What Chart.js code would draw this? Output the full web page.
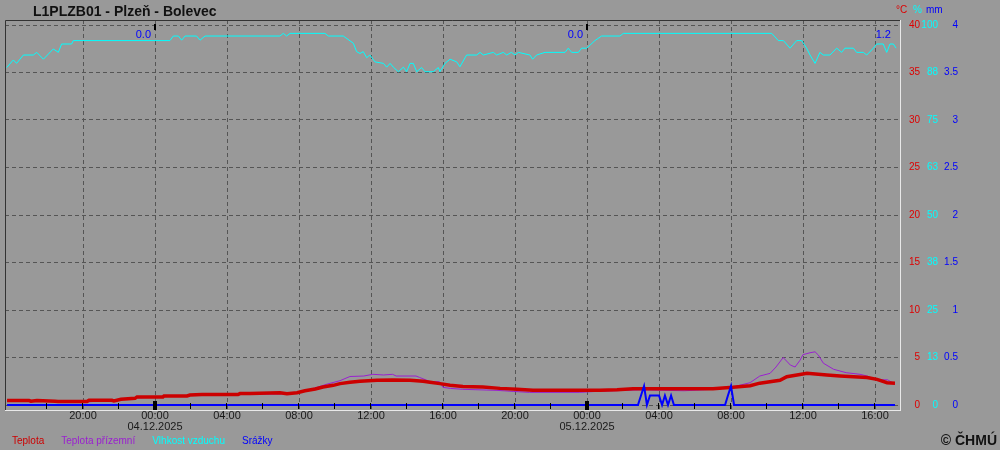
<!DOCTYPE html>
<html lang="cs">
<head>
<meta charset="UTF-8">
<title>L1PLZB01 - Plzeň - Bolevec</title>
<script src="https://cdn.jsdelivr.net/npm/chart.js"></script>
<style>
    body {
        margin: 0;
        padding: 0;
        background-color: #999999;
    }
    .wrap {
        width: 1000px;
        height: 450px;
    }
</style>
</head>
<body>
<div class="wrap"><canvas id="chart" width="1000" height="450"></canvas></div>
<script>
// time = hours from 04.12.2025 00:00
const tempTime = [-8.22, -7.0, -6.89, -6.56, -5.56, -5.39, -3.78, -3.67, -2.39, -2.28, -1.89, -1.11, -1.0, 0.44, 0.5, 1.78, 1.94, 2.61, 4.61, 4.72, 5.28, 6.94, 7.33, 7.89, 8.33, 8.9, 9.33, 9.9, 10.28, 10.83, 11.39, 12.33, 13.2, 14.17, 14.9, 15.28, 15.83, 16.39, 17.11, 18.22, 19.17, 20.11, 21.0, 24.72, 25.67, 26.56, 27.1, 31.0, 32.1, 33.06, 33.6, 34.72, 35.1, 35.83, 36.22, 37.33, 38.06, 39.56, 40.11, 40.67, 41.11];
const tempVal = [0.47, 0.47, 0.4, 0.47, 0.4, 0.37, 0.37, 0.5, 0.5, 0.42, 0.6, 0.7, 0.85, 0.85, 0.95, 0.95, 1.05, 1.1, 1.1, 1.2, 1.2, 1.3, 1.19, 1.3, 1.5, 1.68, 1.9, 2.07, 2.25, 2.39, 2.49, 2.6, 2.63, 2.6, 2.5, 2.39, 2.25, 2.07, 1.96, 1.9, 1.75, 1.65, 1.54, 1.54, 1.6, 1.72, 1.72, 1.72, 1.86, 2.03, 2.3, 2.6, 2.98, 3.2, 3.33, 3.15, 3.05, 2.9, 2.7, 2.35, 2.3];

const groundTime = [-8.22, -3.7, -1.0, 2.0, 4.7, 7.5, 8.33, 9.0, 9.56, 10.28, 10.83, 11.6, 12.1, 12.7, 13.2, 13.4, 14.5, 14.7, 15.3, 15.8, 16.0, 16.4, 17.1, 19.0, 19.9, 20.8, 23.6, 24.7, 27.0, 29.4, 31.0, 32.0, 33.06, 33.6, 34.17, 34.5, 34.9, 35.3, 35.56, 35.83, 36.0, 36.39, 36.67, 36.85, 37.13, 37.7, 38.4, 39.17, 39.56, 40.1, 40.7, 41.11];
const groundVal = [0.4, 0.33, 0.75, 1.0, 1.12, 1.17, 1.5, 1.86, 2.2, 2.56, 3.0, 3.05, 3.23, 3.16, 3.23, 3.05, 3.05, 2.9, 2.45, 2.45, 1.86, 1.75, 1.65, 1.54, 1.43, 1.33, 1.33, 1.45, 1.6, 1.5, 1.65, 1.85, 2.35, 3.05, 3.33, 4.0, 5.0, 4.2, 4.0, 4.7, 5.3, 5.5, 5.6, 5.26, 4.4, 3.76, 3.4, 3.23, 3.05, 2.65, 2.65, 2.18];

const humTime = [-8.24, -7.87, -7.69, -7.31, -6.76, -6.57, -6.2, -5.65, -5.37, -5.19, -4.63, -4.54, 0.83, 1.02, 1.3, 1.48, 1.67, 2.31, 2.5, 2.78, 6.94, 7.13, 7.31, 7.5, 9.44, 9.63, 10.46, 11.02, 11.2, 11.39, 11.57, 11.76, 11.94, 12.22, 12.69, 12.87, 13.06, 13.24, 13.52, 13.8, 13.98, 14.17, 14.35, 14.54, 14.81, 15.0, 15.46, 15.74, 15.83, 16.11, 16.39, 16.76, 16.94, 17.31, 17.87, 18.06, 18.24, 18.8, 18.98, 19.35, 19.54, 19.8, 20.0, 20.19, 20.83, 20.98, 21.2, 21.67, 22.78, 22.96, 23.15, 23.52, 23.7, 23.98, 24.17, 24.44, 24.81, 25.83, 26.02, 34.26, 34.63, 34.91, 35.28, 35.65, 35.93, 36.2, 36.39, 36.67, 36.94, 37.13, 37.5, 37.87, 38.15, 38.33, 38.8, 38.98, 39.35, 39.54, 39.91, 40.09, 40.46, 40.65, 40.83, 41.02, 41.17];
const humVal = [88.8, 90.8, 89.9, 92.1, 92.1, 92.8, 91.0, 93.7, 92.8, 95.0, 95.0, 95.9, 95.9, 97.1, 97.1, 96.0, 97.1, 97.1, 96.0, 97.1, 97.1, 97.8, 97.1, 97.8, 97.8, 97.1, 97.1, 95.2, 93.0, 92.5, 93.0, 91.4, 92.1, 90.3, 89.9, 88.9, 89.9, 88.9, 87.7, 88.9, 87.7, 89.9, 89.9, 87.7, 88.8, 87.7, 87.7, 88.8, 87.7, 89.9, 91.0, 90.3, 89.0, 92.1, 92.1, 92.8, 92.1, 92.8, 92.1, 92.8, 92.1, 92.8, 92.1, 92.8, 92.1, 91.0, 92.1, 92.8, 92.8, 93.9, 92.8, 92.8, 93.9, 93.9, 94.7, 95.9, 97.1, 97.1, 97.8, 97.8, 95.9, 95.9, 93.9, 95.9, 95.9, 93.9, 92.1, 89.9, 92.8, 92.1, 92.1, 93.9, 92.8, 93.9, 93.9, 92.8, 92.8, 92.1, 93.9, 95.0, 95.0, 92.8, 95.0, 95.0, 93.9];

const rainTime = [-8.22, 26.83, 27.0, 27.17, 27.33, 27.5, 27.67, 27.83, 28.0, 28.17, 28.33, 28.5, 28.67, 28.83, 31.67, 31.83, 32.0, 32.17, 41.11];
const rainVal = [0, 0, 0.1, 0.2, 0, 0.1, 0.1, 0.1, 0.1, 0, 0.1, 0, 0.1, 0, 0, 0.1, 0.2, 0, 0];

const timeTicks = [-4, 0, 4, 8, 12, 16, 20, 24, 28, 32, 36, 40];
const minorTicks = [-6, -4, -2, 0, 2, 4, 6, 8, 10, 12, 14, 16, 18, 20, 22, 24, 26, 28, 30, 32, 34, 36, 38, 40];
const midnightHours = [0, 24];
const midnightLabels = ['04.12.2025', '05.12.2025'];

const tempTicks = [0, 5, 10, 15, 20, 25, 30, 35, 40];
const humTicks = [0, 12.5, 25, 37.5, 50, 62.5, 75, 87.5, 100];
const humTickLabels = ['0', '13', '25', '38', '50', '63', '75', '88', '100'];
const rainTicks = [0, 0.5, 1, 1.5, 2, 2.5, 3, 3.5, 4];
const rainTickLabels = ['0', '0.5', '1', '1.5', '2', '2.5', '3', '3.5', '4'];

const FONT = '"Liberation Sans", Arial, sans-serif';
Chart.defaults.font.family = FONT;

// scale ranges so that 0..40 sits inside the frame like the original
const xMin = -150 / 18, xMax = 745 / 18;
const tMin = -5 / 9.5, tMax = 40 + 5 / 9.5;

function pts(t, v) {
    return t.map((x, i) => ({ x: x, y: v[i] }));
}

// daily rain sums shown at the top
function rainSums() {
    const sums = {};
    rainTime.forEach((t, i) => {
        const d = Math.floor(t / 24);
        sums[d] = (sums[d] || 0) + rainVal[i];
    });
    return [
        { at: 0, text: (sums[-1] || 0).toFixed(1) },
        { at: 24, text: (sums[0] || 0).toFixed(1) },
        { at: rainTime[rainTime.length - 1], text: (sums[1] || 0).toFixed(1) }
    ];
}

const decor = {
    id: 'decor',
    afterDatasetsDraw(chart) {
        const { ctx, chartArea: a, scales: { x } } = chart;
        ctx.save();

        // dark top/left frame
        ctx.strokeStyle = '#333333';
        ctx.lineWidth = 1;
        ctx.beginPath();
        ctx.moveTo(a.left + 0.5, a.bottom);
        ctx.lineTo(a.left + 0.5, a.top + 0.5);
        ctx.lineTo(a.right, a.top + 0.5);
        ctx.stroke();

        // tick marks along the bottom
        ctx.fillStyle = '#000000';
        minorTicks.forEach(h => {
            const px = Math.round(x.getPixelForValue(h));
            if (midnightHours.includes(h)) {
                ctx.fillRect(px - 2, a.bottom - 9, 4, 9);
                ctx.fillRect(px - 1, a.top + 4, 2, 6);
            } else {
                ctx.fillRect(px - 1, a.bottom - 7, 1, 6);
            }
        });

        // units
        ctx.font = '10px ' + FONT;
        ctx.textBaseline = 'middle';
        ctx.textAlign = 'left';
        ctx.fillStyle = '#dd0000';
        ctx.fillText('°C', 896, 10);
        ctx.fillStyle = '#00ffff';
        ctx.fillText('%', 913, 10);
        ctx.fillStyle = '#0000ff';
        ctx.fillText('mm', 926, 10);

        // title
        ctx.font = 'bold 14px ' + FONT;
        ctx.fillStyle = '#111111';
        ctx.textBaseline = 'alphabetic';
        ctx.fillText('L1PLZB01 - Plzeň - Bolevec', 33, 16);

        // rain sums
        ctx.font = '11px ' + FONT;
        ctx.fillStyle = '#0000ff';
        ctx.textAlign = 'right';
        ctx.textBaseline = 'middle';
        rainSums().forEach(s => {
            ctx.fillText(s.text, x.getPixelForValue(s.at) - 4, 35);
        });

        // legend
        ctx.font = '10px ' + FONT;
        ctx.textAlign = 'left';
        let lx = 12;
        chart.data.datasets.forEach(ds => {
            ctx.fillStyle = ds.borderColor;
            ctx.fillText(ds.label, lx, 441);
            lx += ctx.measureText(ds.label).width + 17;
        });

        // copyright
        ctx.font = 'bold 14px ' + FONT;
        ctx.fillStyle = '#111111';
        ctx.textAlign = 'right';
        ctx.fillText('© ČHMÚ', 997, 441);

        ctx.restore();
    }
};

new Chart(document.getElementById('chart'), {
    type: 'line',
    data: {
        datasets: [
            {
                label: 'Teplota',
                data: pts(tempTime, tempVal),
                borderColor: '#cc0000',
                borderWidth: 3.5,
                yAxisID: 'y',
                order: 1
            },
            {
                label: 'Teplota přízemní',
                data: pts(groundTime, groundVal),
                borderColor: '#9a20d0',
                borderWidth: 1,
                yAxisID: 'y',
                order: 2
            },
            {
                label: 'Vlhkost vzduchu',
                data: pts(humTime, humVal),
                borderColor: '#00ffff',
                borderWidth: 1,
                yAxisID: 'yHum',
                order: 3
            },
            {
                label: 'Srážky',
                data: pts(rainTime, rainVal),
                borderColor: '#0000ff',
                borderWidth: 2,
                yAxisID: 'yRain',
                order: 0
            }
        ]
    },
    options: {
        responsive: false,
        animation: false,
        elements: { point: { radius: 0 }, line: { tension: 0 } },
        layout: { padding: { left: 5, top: 20, right: 42, bottom: 10 } },
        plugins: {
            legend: { display: false },
            tooltip: { enabled: false },
            title: { display: false }
        },
        scales: {
            x: {
                type: 'linear',
                position: 'bottom',
                min: xMin,
                max: xMax,
                afterBuildTicks: s => { s.ticks = timeTicks.map(v => ({ value: v })); },
                afterFit: s => { s.height = 30; },
                ticks: {
                    autoSkip: false,
                    maxRotation: 0,
                    padding: 0,
                    color: '#1a1a1a',
                    font: { size: 11, lineHeight: 1.05 },
                    callback: v => {
                        const hh = ((v % 24) + 24) % 24;
                        const s = String(hh).padStart(2, '0') + ':00';
                        const m = midnightHours.indexOf(v);
                        return m >= 0 ? [s, midnightLabels[m]] : s;
                    }
                },
                grid: { color: '#555555', drawTicks: false },
                border: { color: '#e8e8e8', dash: [4, 3] }
            },
            y: {
                position: 'right',
                weight: 0,
                min: tMin,
                max: tMax,
                afterBuildTicks: s => { s.ticks = tempTicks.map(v => ({ value: v })); },
                afterFit: s => { s.width = 20; },
                ticks: { color: '#dd0000', font: { size: 10 }, padding: 7, crossAlign: 'far' },
                grid: { color: '#555555', drawTicks: false },
                border: { color: '#e8e8e8', dash: [4, 3] }
            },
            yHum: {
                position: 'right',
                weight: 1,
                min: tMin * 2.5,
                max: tMax * 2.5,
                afterBuildTicks: s => { s.ticks = humTicks.map(v => ({ value: v })); },
                afterFit: s => { s.width = 18; },
                ticks: {
                    color: '#00ffff', font: { size: 10 }, padding: 0, crossAlign: 'far',
                    callback: (v, i) => humTickLabels[i]
                },
                grid: { display: false },
                border: { display: false }
            },
            yRain: {
                position: 'right',
                weight: 2,
                min: tMin / 10,
                max: tMax / 10,
                afterBuildTicks: s => { s.ticks = rainTicks.map(v => ({ value: v })); },
                afterFit: s => { s.width = 20; },
                ticks: {
                    color: '#0000ff', font: { size: 10 }, padding: 4, crossAlign: 'far',
                    callback: (v, i) => rainTickLabels[i]
                },
                grid: { display: false },
                border: { display: false }
            }
        }
    },
    plugins: [decor]
});
</script>
</body>
</html>
